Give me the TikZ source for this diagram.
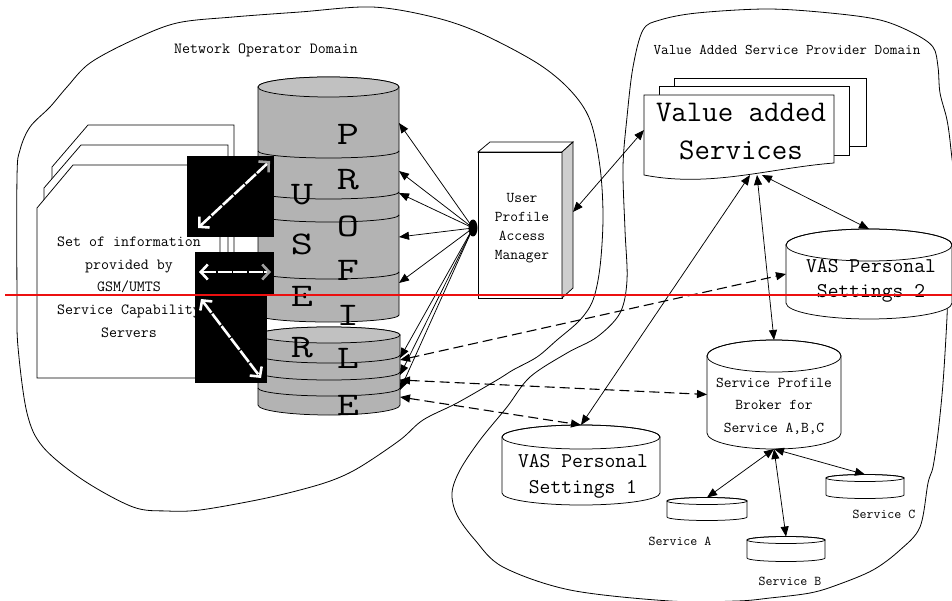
\documentclass[tikz,border=0pt]{standalone}
\usepackage{graphicx}
\usetikzlibrary{arrows.meta,shapes.geometric}

\definecolor{cylbody}{RGB}{179,179,179}
\definecolor{cyltop}{RGB}{193,193,193}
\definecolor{boxside}{RGB}{206,206,206}
\definecolor{markred}{RGB}{236,16,16}

% typewriter face at a given size / baseline skip
\newcommand\tsz[2]{\ttfamily\fontsize{#1}{#2}\selectfont}

% white database cylinder with a named holder node
% #1 name, #2 centre x, #3 y of top ellipse, #4 y of bottom arc,
% #5 half width, #6 ellipse half height
\newcommand\dbcyl[6]{%
  \node[holder, minimum width={2*#5}, minimum height={#4-#3+2*#6}] (#1) at (#2,{(#3+#4)/2}) {};
  \filldraw[outline, fill=white] ({#2-#5},#3) -- ({#2-#5},#4)
     arc[start angle=180, end angle=360, x radius=#5pt, y radius=#6pt]
     -- ({#2+#5},#3)
     arc[start angle=0, end angle=180, x radius=#5pt, y radius=#6pt] -- cycle;
  \draw[outline] (#2,#3) ellipse[x radius=#5pt, y radius=#6pt];
}

\begin{document}
\begin{tikzpicture}[x=1pt,y=-1pt,
  blob/.style={line width=0.8pt, line join=round},
  outline/.style={line width=0.75pt},
  solidhead/.tip={Triangle[length=10pt,width=8pt]},
  link/.style={line width=0.75pt, solidhead-solidhead},
  onelink/.style={line width=0.75pt, -solidhead},
  dlink/.style={line width=1.1pt, solidhead-solidhead, dash pattern=on 10pt off 5pt},
  holder/.style={inner sep=0pt, outer sep=0pt, draw=none},
  txt/.style={inner sep=0pt, align=center, anchor=base},
  blackbox/.style={holder, fill=black},
  wtip/.tip={Straight Barb[length=7pt,width=15pt]},
  gtip/.tip={Straight Barb[length=7pt,width=15pt,color=gray!75]},
  wbar/.style={white, line width=2.6pt, dash pattern=on 14pt off 1.5pt},
  letter/.style={txt, font=\tsz{33}{33}},
]
\useasboundingbox (0,0) rectangle (952,601);
\fill[white] (0,0) rectangle (952,601);

% ---------- domain outlines ----------
\draw[blob] plot[smooth cycle, tension=0.55] coordinates {
  (177,23) (233,17) (300,12) (372,7) (433,17) (480,33) (537,63) (570,90)
  (590,120) (600,167) (603,217) (600,267) (593,300) (580,320) (557,340)
  (537,357) (513,370) (497,380) (457,403) (423,420) (400,440) (360,467)
  (333,480) (300,490) (257,500) (200,510) (167,511) (133,507) (83,480)
  (43,447) (27,413) (18,347) (17,300) (17,177) (20,150) (30,127) (50,107)
  (67,87) (90,63) (133,40)};
\draw[blob] plot[smooth cycle, tension=0.55] coordinates {
  (643,30) (660,20) (697,13) (767,9) (830,13) (880,20) (913,33) (933,47)
  (938,67) (940,93) (947,120) (951,150) (957,215) (948,280) (947,317)
  (943,383) (938,433) (933,467) (928,483) (920,527) (900,550) (873,570)
  (837,585) (810,593) (770,598) (737,601) (670,601) (570,590) (503,567)
  (475,540) (457,515) (452,493) (460,470) (480,440) (507,407) (530,377)
  (567,353) (597,337) (620,313) (627,280) (625,230) (623,167) (627,117)
  (633,67)};

\node[txt, font=\tsz{15.5}{18}] (nodom) at (266,54) {Network Operator Domain};
\node[txt, font=\tsz{14.8}{18}] (vasdom) at (787,55) {Value Added Service Provider Domain};

% ---------- GSM/UMTS document stack ----------
\filldraw[outline, fill=white] (88,125) -- (234,125) -- (234,330) -- (52,330) -- (52,167) -- cycle;
\filldraw[outline, fill=white] (81,145) -- (228,145) -- (228,355) -- (44,355) -- (44,188) -- cycle;
\filldraw[outline, fill=white] (73,165) -- (220,165) -- (220,378) -- (37,378) -- (37,208) -- cycle;
% multi-line labels sit on the baseline of their last line
\node[txt, font=\tsz{15.5}{22.5}] (gsmtext) at (129,337)
  {Set of information\\provided by\\GSM/UMTS\\Service Capability\\Servers};

% ---------- USER PROFILE store ----------
\node[holder, minimum width=141, minimum height=245] (up) at (328.5,199.5) {};
\filldraw[outline, fill=cylbody] (258,87) -- (258,315)
   arc[start angle=180, end angle=360, x radius=70.5pt, y radius=7pt]
   -- (399,87) arc[start angle=0, end angle=180, x radius=70.5pt, y radius=10pt] -- cycle;
\filldraw[outline, fill=cyltop] (328.5,87) ellipse[x radius=70.5pt, y radius=10pt];
\foreach \yy in {151,192,215,272}
  \draw[outline] (258,\yy) arc[start angle=180, end angle=360, x radius=70.5pt, y radius=7pt];

\node[holder, minimum width=142, minimum height=88] (low) at (329,371) {};
\filldraw[outline, fill=cylbody] (258,335) -- (258,405)
   arc[start angle=180, end angle=360, x radius=71pt, y radius=10pt]
   -- (400,335) arc[start angle=0, end angle=180, x radius=71pt, y radius=8pt] -- cycle;
\filldraw[outline, fill=cyltop] (329,335) ellipse[x radius=71pt, y radius=8pt];
\foreach \yy in {355,372,388}
  \draw[outline] (258,\yy) arc[start angle=180, end angle=360, x radius=71pt, y radius=8pt];

\node[letter] (lu) at (302,205) {\scalebox{1.3}[1]{U}};
\node[letter] (ls) at (302,255) {\scalebox{1.3}[1]{S}};
\node[letter] (le) at (302,306) {\scalebox{1.3}[1]{E}};
\node[letter] (lr) at (302,357) {\scalebox{1.3}[1]{R}};
\node[letter] (pp) at (348,145) {\scalebox{1.3}[1]{P}};
\node[letter] (pr) at (348,190) {\scalebox{1.3}[1]{R}};
\node[letter] (po) at (348,237) {\scalebox{1.3}[1]{O}};
\node[letter] (pf) at (348,280) {\scalebox{1.3}[1]{F}};
\node[letter] (pi) at (348,325) {\scalebox{1.3}[1]{I}};
\node[letter] (pl) at (348,368) {\scalebox{1.3}[1]{L}};
\node[letter] (pe) at (348,415) {\scalebox{1.3}[1]{E}};

% ---------- interface pictures ----------
\node[blackbox, minimum width=87, minimum height=81] (bx1) at (230.5,196.5) {};
\node[blackbox, minimum width=79, minimum height=43] (bx2) at (234.5,273.5) {};
\node[blackbox, minimum width=72, minimum height=88] (bx3) at (231,339) {};
\coordinate (a1s) at (198,228);
\coordinate (a1e) at (270,161);
\coordinate (a2s) at (199,272);
\coordinate (a2e) at (271,272);
\coordinate (a3s) at (201,299);
\coordinate (a3e) at (261,378);
\draw[wbar, wtip-gtip] (a1s) -- (a1e);
\draw[wbar, wtip-gtip] (a2s) -- (a2e);
\draw[wbar, wtip-wtip] (a3s) -- (a3e);

% ---------- User Profile Access Manager ----------
\node[holder, minimum width=95, minimum height=156] (upam) at (525.5,220) {};
\filldraw[outline, fill=white] (478,152) rectangle (562,298);
\filldraw[outline, fill=white] (478,152) -- (490,142) -- (573,142) -- (562,152) -- cycle;
\filldraw[outline, fill=boxside] (562,152) -- (573,142) -- (573,288) -- (562,298) -- cycle;
\node[txt, font=\tsz{15}{19.3}] (upamtext) at (522,260) {User\\Profile\\Access\\Manager};

% ---------- Value added Services stack ----------
\filldraw[outline, fill=white] (674,78) rectangle (866,146);
\filldraw[outline, fill=white] (659,86) rectangle (849,155);
\filldraw[outline, fill=white] (644,95) -- (834,95) -- (834,163)
   .. controls (770,168) and (710,188) .. (644,175) -- cycle;
\node[holder, minimum width=190, minimum height=80] (vas) at (739,135) {};
\node[txt, font=\tsz{30}{38}] (vastext) at (741,160) {Value added\\Services};

% ---------- stores on the provider side ----------
\dbcyl{vas2}{869}{245}{303}{83}{16}
\node[txt, font=\tsz{21}{25}] (vas2text) at (871,298) {VAS Personal\\Settings 2};
\dbcyl{vas1}{581}{437}{493}{79}{12}
\node[txt, font=\tsz{21}{26}] (vas1text) at (583,493) {VAS Personal\\Settings 1};
\dbcyl{broker}{774}{356}{433}{67}{16}
\node[txt, font=\tsz{15}{22.5}] (brokertext) at (774,432) {Service Profile\\Broker for\\Service A,B,C};
\dbcyl{sa}{707}{501}{517}{40}{3.5}
\dbcyl{sb}{786}{540}{558}{39}{3.5}
\dbcyl{sc}{865}{478}{495}{39}{3.5}
\node[txt, font=\tsz{13.5}{16}, fill=white, inner sep=1.5pt] (satext) at (680,545) {Service A};
\node[txt, font=\tsz{13.5}{16}, fill=white, inner sep=1.5pt] (sbtext) at (790,585) {Service B};
\node[txt, font=\tsz{13.5}{16}, fill=white, inner sep=1.5pt] (sctext) at (884,518) {Service C};

% ---------- connectors ----------
\node[holder, fill=black, ellipse, minimum width=9, minimum height=17] (hub) at (473,228) {};
\foreach \yy in {123,171,193,237,283}
  \draw[onelink] (hub.center) -- (up.east |- 0,\yy);
\foreach \yy in {358,375,390}
  \draw[onelink] (hub.center) -- (low.east |- 0,\yy);

\draw[dlink] (low.east |- 0,360) -- (vas2.west);
\draw[dlink] (low.east |- 0,380) -- (broker.west);
\draw[dlink] (low.east |- 0,397) -- (vas1.north);

\draw[link] (upam.east |- 0,212) -- (vas.west |- 0,130);
\draw[link] (vas.south -| 750,0) -- (vas1.north);
\draw[link] (vas.south -| 757,0) -- (broker.north);
\draw[link] (vas.south -| 762,0) -- (vas2.north);
\draw[link] (broker.south) -- (sa.north);
\draw[link] (broker.south) -- (sb.north);
\draw[link] (broker.south) -- (sc.north);

% ---------- red rule ----------
\draw[markred, line width=2pt] (5,295) -- (952,295);
\end{tikzpicture}
\end{document}
